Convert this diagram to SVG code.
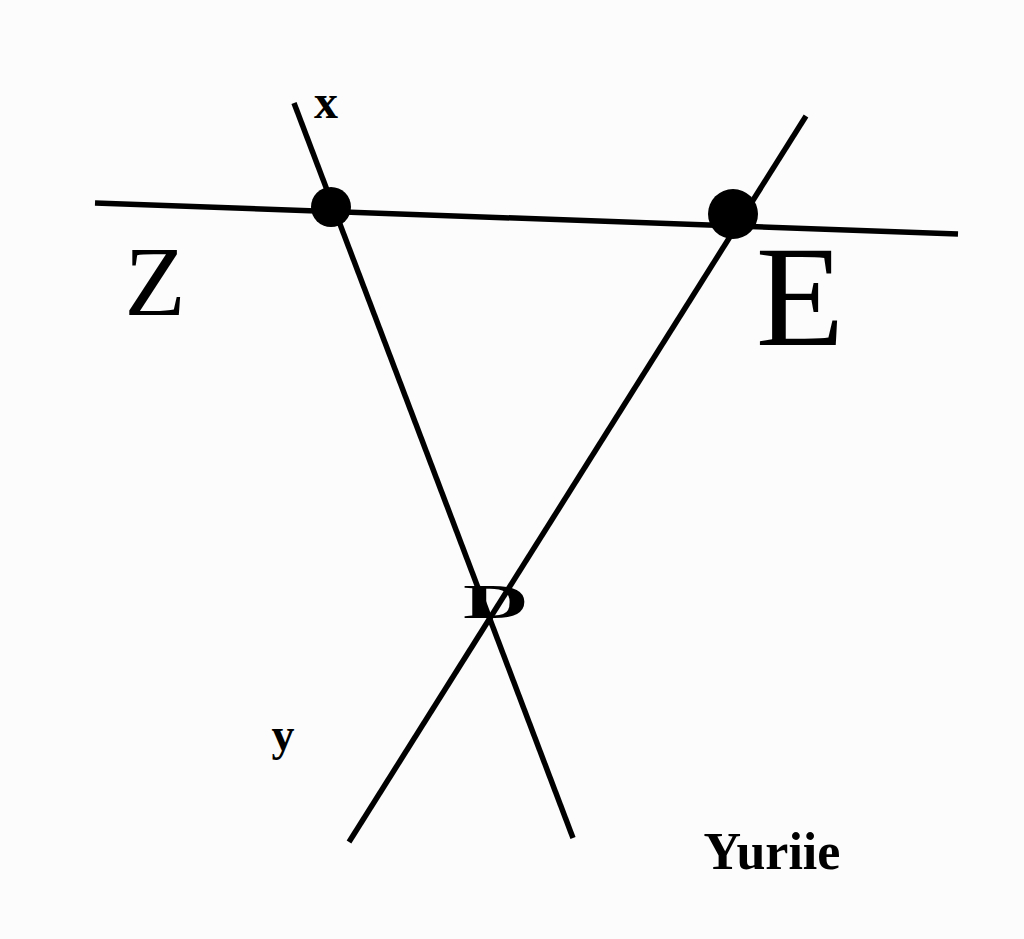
<svg xmlns="http://www.w3.org/2000/svg" width="1024" height="939" viewBox="0 0 1024 939">
<style>
.ln{stroke:#000;stroke-width:5.5;fill:none;stroke-linecap:butt}
.dot{fill:#000}
.serif{font-family:"Liberation Serif","Times New Roman",serif;fill:#000}
.b{font-weight:bold}
</style>
<rect width="1024" height="939" fill="#fcfcfc"/>
<g id="connectors">
<line class="ln" x1="95" y1="203" x2="958" y2="234"/>
<line class="ln" x1="294" y1="103" x2="573" y2="838"/>
<line class="ln" x1="806" y1="116" x2="349" y2="842"/>
</g>
<g id="node-left"><circle class="dot" cx="331" cy="207" r="20"/></g>
<g id="node-right"><circle class="dot" cx="733" cy="214" r="25"/></g>
<g id="label-x"><text class="serif b" x="326" y="118" font-size="48" text-anchor="middle">x</text></g>
<g id="label-Z"><text class="serif" x="155" y="315" font-size="100" text-anchor="middle">Z</text></g>
<g id="label-E"><text class="serif" x="800" y="345" font-size="145" text-anchor="middle">E</text></g>
<g id="label-D"><text class="serif b" transform="translate(496,618) scale(1.9,1)" x="0" y="0" font-size="48" text-anchor="middle">D</text></g>
<g id="label-y"><text class="serif b" x="283" y="750" font-size="46" text-anchor="middle">y</text></g>
<g id="label-Yuriie"><text class="serif b" x="772" y="869" font-size="52" text-anchor="middle">Yuriie</text></g>
</svg>
